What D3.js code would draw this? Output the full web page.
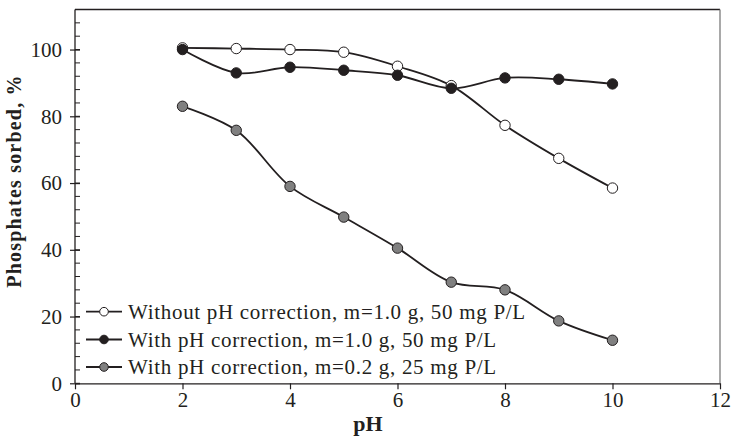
<!DOCTYPE html>
<html>
<head>
<meta charset="utf-8">
<script src="https://cdn.jsdelivr.net/npm/d3@7"></script>
<style>
  body { margin: 0; background: #fff; }
  svg text { font-family: "Liberation Serif", "DejaVu Serif", serif; fill: #231f20; }
</style>
</head>
<body>
<svg id="chart" width="733" height="437"></svg>
<script>
// data
var pH = [2, 3, 4, 5, 6, 7, 8, 9, 10];
var withoutCorr = [100.5, 100.3, 100, 99.2, 95, 89.2, 77.3, 67.4, 58.5];
var withCorr1 = [100, 93, 94.7, 93.8, 92.3, 88.4, 91.5, 91.1, 89.7];
var withCorr02 = [83, 75.8, 59, 49.8, 40.5, 30.3, 28, 18.7, 12.9];
var xTicks = [0, 2, 4, 6, 8, 10, 12];
var yTicks = [0, 20, 40, 60, 80, 100];
var legendLabels = [
    "Without pH correction, m=1.0 g, 50 mg P/L",
    "With pH correction, m=1.0 g, 50 mg P/L",
    "With pH correction, m=0.2 g, 25 mg P/L"
];

var ink = "#231f20";
var svg = d3.select("#chart");

var x = d3.scaleLinear().domain([0, 12]).range([75, 720]);
var y = d3.scaleLinear().domain([0, 112]).range([383.3, 9.5]);

// frame: top dark, right grey
svg.append("line").attr("x1", x(0)).attr("x2", x(12)).attr("y1", y(112)).attr("y2", y(112))
    .attr("stroke", ink).attr("stroke-width", 1.3);
svg.append("line").attr("x1", x(12)).attr("x2", x(12)).attr("y1", y(112)).attr("y2", y(0))
    .attr("stroke", "#7a7a7a").attr("stroke-width", 1.3);

// x axis
var xAxis = d3.axisBottom(x).tickValues(xTicks).tickSize(6).tickPadding(3).tickSizeOuter(0);
var gx = svg.append("g").attr("transform", "translate(0," + y(0) + ")").call(xAxis);
gx.select(".domain").attr("stroke", ink).attr("stroke-width", 1.3);
gx.selectAll(".tick line").attr("stroke", ink).attr("stroke-width", 1.2);
gx.selectAll("text").style("font-size", "21px").attr("fill", ink).attr("font-family", null);

// y axis: minor ticks inward every 4
var minor = d3.range(0, 113, 4);
svg.append("g").selectAll("line").data(minor).enter().append("line")
    .attr("x1", x(0)).attr("x2", x(0) + 5)
    .attr("y1", function (d) { return y(d); }).attr("y2", function (d) { return y(d); })
    .attr("stroke", ink).attr("stroke-width", 1);
var yAxis = d3.axisLeft(y).tickValues(yTicks).tickSize(5).tickPadding(8).tickSizeOuter(0);
var gy = svg.append("g").attr("transform", "translate(" + x(0) + ",0)").call(yAxis);
gy.select(".domain").attr("stroke", ink).attr("stroke-width", 1.3).attr("d", "M0," + y(0) + "V" + y(112));
gy.selectAll(".tick line").attr("stroke", ink).attr("stroke-width", 1.2).attr("x2", -5).attr("x1", 5);
gy.selectAll("text").style("font-size", "21px").attr("fill", ink).attr("font-family", null);

// axis titles
svg.append("text").attr("x", 368).attr("y", 431).attr("text-anchor", "middle")
    .style("font-size", "22px").style("font-weight", "bold").text("pH");
svg.append("text").attr("transform", "translate(21,181) rotate(-90)").attr("text-anchor", "middle")
    .style("font-size", "20px").style("font-weight", "bold").style("letter-spacing", "1.2px")
    .text("Phosphates sorbed, %");

// series
var series = [
    { values: withCorr02, fill: "#808080" },
    { values: withoutCorr, fill: "#ffffff" },
    { values: withCorr1, fill: ink }
];
var line = d3.line()
    .x(function (d, i) { return x(pH[i]); })
    .y(function (d) { return y(d); })
    .curve(d3.curveCatmullRom.alpha(0.5));

series.forEach(function (s) {
    svg.append("path").datum(s.values).attr("d", line)
        .attr("fill", "none").attr("stroke", ink).attr("stroke-width", 1.8);
});
series.forEach(function (s) {
    svg.append("g").selectAll("circle").data(s.values).enter().append("circle")
        .attr("cx", function (d, i) { return x(pH[i]); })
        .attr("cy", function (d) { return y(d); })
        .attr("r", 5.2)
        .attr("fill", s.fill).attr("stroke", ink).attr("stroke-width", 1);
});

// legend
var legendFills = ["#ffffff", ink, "#808080"];
var legendRows = [311.7, 339.5, 367];
var legend = svg.append("g").attr("class", "legend");
for (var i = 0; i < legendLabels.length; i++) {
    legend.append("line")
        .attr("x1", 86).attr("x2", 122)
        .attr("y1", legendRows[i]).attr("y2", legendRows[i])
        .attr("stroke", ink).attr("stroke-width", 1.8);
    legend.append("circle")
        .attr("cx", 104).attr("cy", legendRows[i]).attr("r", 4.3)
        .attr("fill", legendFills[i]).attr("stroke", ink).attr("stroke-width", 1);
    legend.append("text")
        .attr("x", 128).attr("y", legendRows[i] + 7)
        .style("font-size", "21px").style("letter-spacing", "0.7px")
        .text(legendLabels[i]);
}
</script>
</body>
</html>
